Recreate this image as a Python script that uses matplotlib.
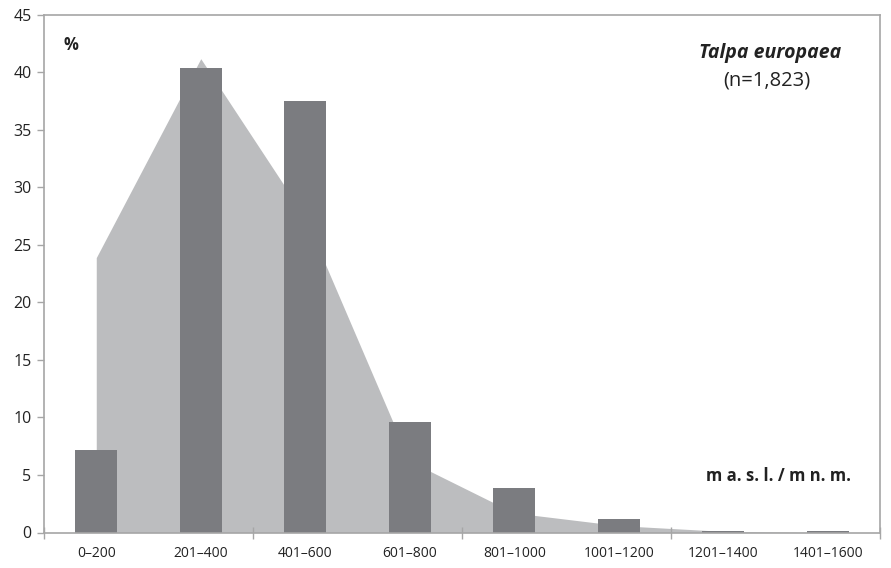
import numpy as np
import matplotlib.pyplot as plt

plt.rcParams['font.family'] = ['Open Sans', 'DejaVu Sans']

# altitude classes (m a.s.l.)
categories = ['0\u2013200', '201\u2013400', '401\u2013600', '601\u2013800',
              '801\u20131000', '1001\u20131200', '1201\u20131400', '1401\u20131600']
# share of records per class (%), bars
bar_values = [7.2, 40.4, 37.5, 9.6, 3.85, 1.2, 0.1, 0.1]
# background area series (%)
area_values = [23.9, 41.2, 27.4, 6.2, 1.7, 0.6, 0.1, 0.0]

frame_color = '#a6a6a6'
idx = np.arange(len(categories))

fig = plt.figure(figsize=(8.91, 5.68), dpi=100)
ax = fig.add_axes([0.0494, 0.0625, 0.9383, 0.9111])

ax.fill_between(idx, area_values, color='#bcbdbf', linewidth=0, zorder=1)
ax.bar(idx, bar_values, width=0.4, color='#7b7c80', zorder=2)

ax.set_xlim(-0.5, len(categories) - 0.5)
ax.set_ylim(0, 45)
ax.set_yticks(np.arange(0, 46, 5))

# group separators every two classes, labels at the class centres
ax.set_xticks(np.arange(-0.5, len(categories), 2), [])
ax.set_xticks(idx, categories, minor=True)
ax.tick_params(axis='x', which='major', direction='inout', length=8,
               color=frame_color, width=1)
ax.tick_params(axis='x', which='minor', length=0, labelsize=10,
               pad=10, labelcolor='#222222')
ax.tick_params(axis='y', direction='out', length=5, color=frame_color,
               width=1, labelsize=11.5, labelcolor='#222222', pad=4)

for s in ax.spines.values():
    s.set_color(frame_color)
    s.set_linewidth(1.2)

ax.text(0.023, 0.942, '%', transform=ax.transAxes, fontsize=12,
        fontweight='bold', ha='left', va='center', color='#222222')
ax.text(0.868, 0.927, 'Talpa europaea', transform=ax.transAxes, fontsize=14,
        fontweight='bold', fontstyle='italic', ha='center', va='center',
        color='#222222')
ax.text(0.865, 0.874, '(n=1,823)', transform=ax.transAxes, fontsize=14.5,
        ha='center', va='center', color='#222222')
ax.text(0.965, 0.11, 'm a. s. l. / m n. m.', transform=ax.transAxes,
        fontsize=12, fontweight='bold', ha='right', va='center',
        color='#222222')

fig.savefig('out.png', dpi=100)
